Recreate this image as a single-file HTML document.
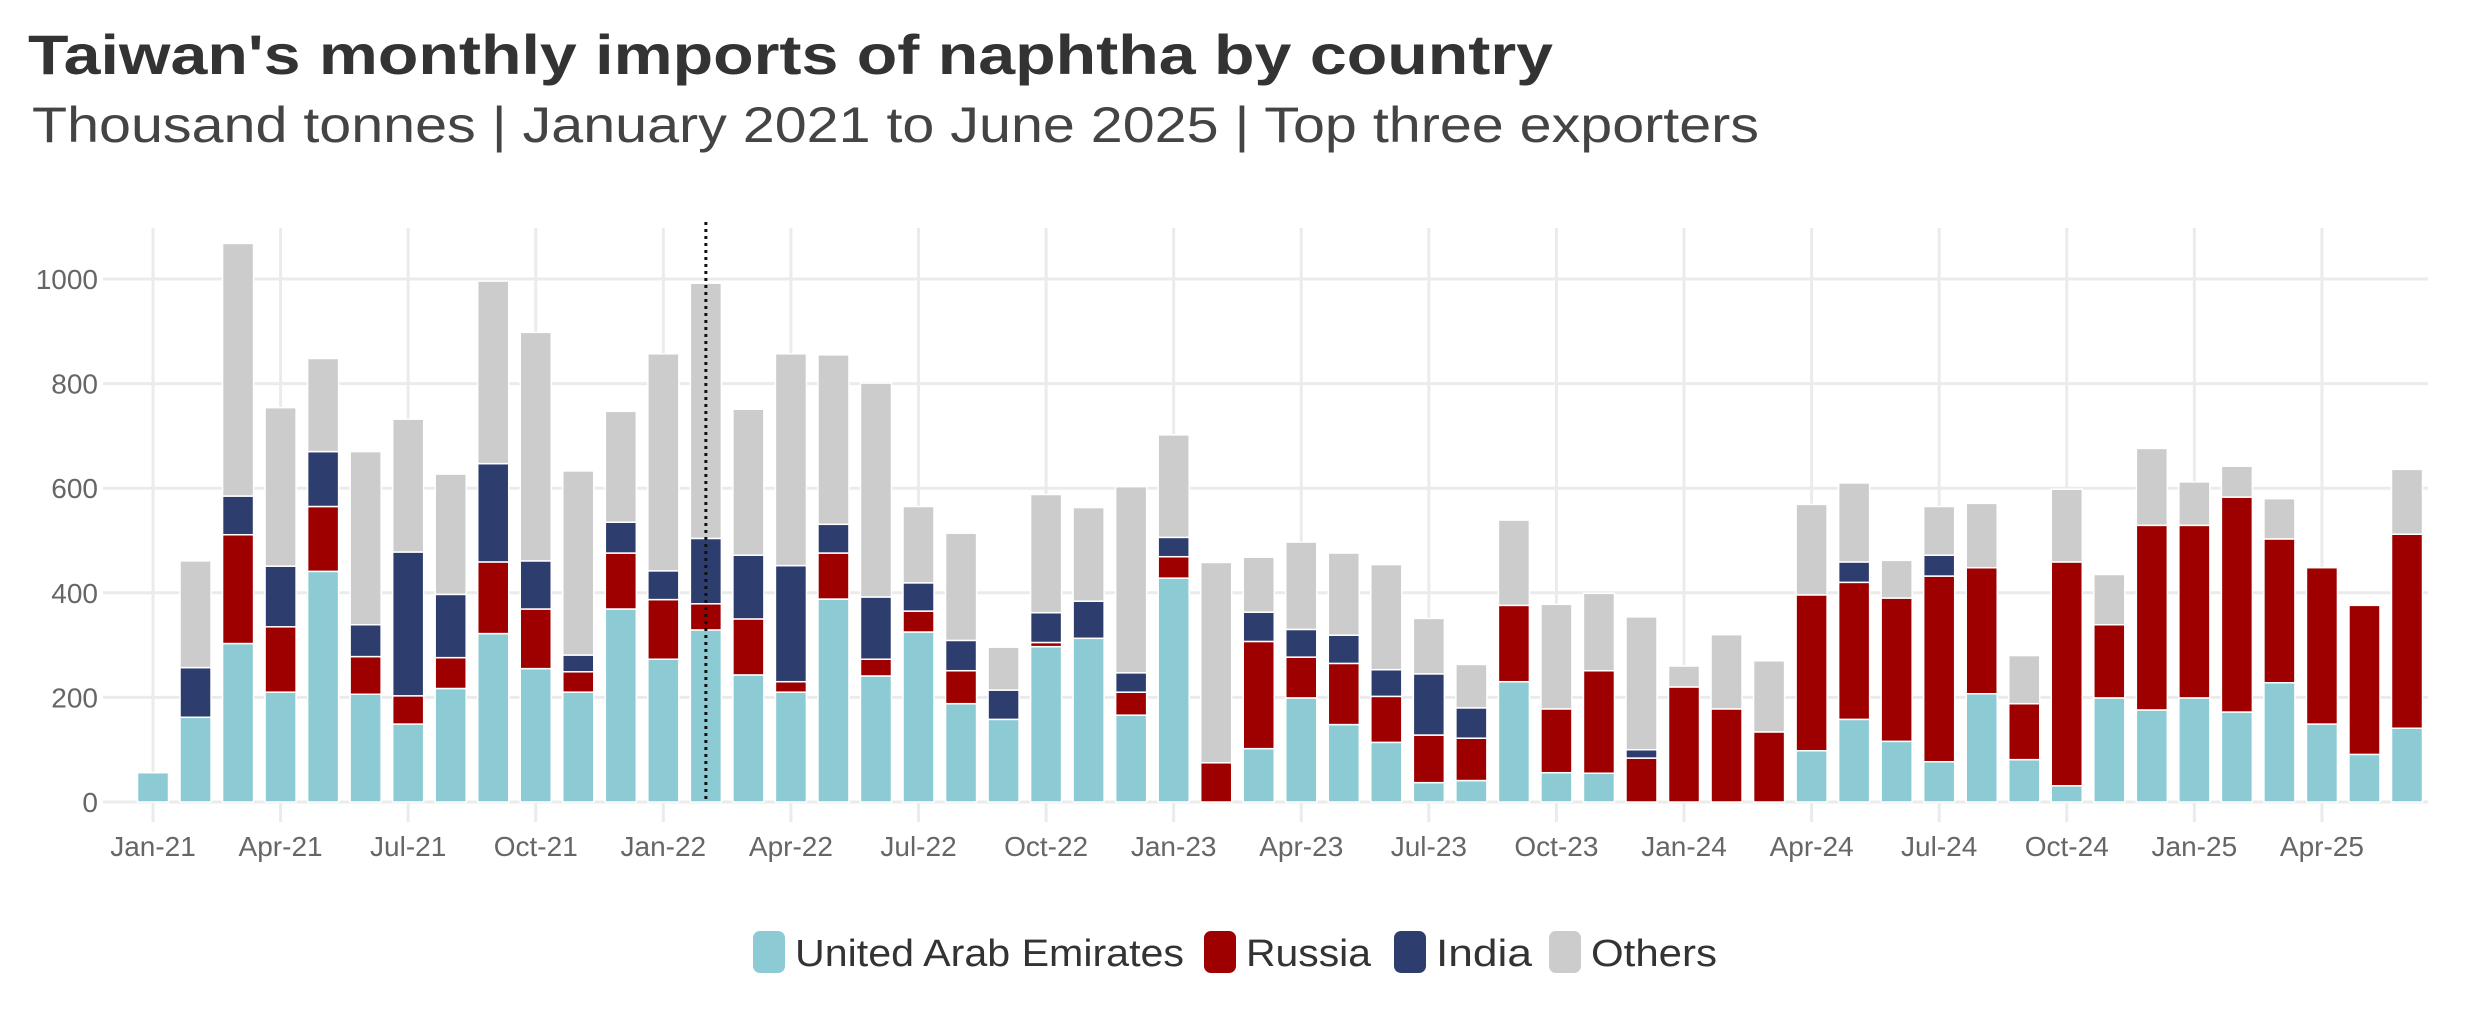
<!DOCTYPE html>
<html><head><meta charset="utf-8">
<style>
html,body{margin:0;padding:0;background:#fff;}
svg{display:block;font-family:"Liberation Sans",sans-serif;}
</style></head>
<body>
<svg id="chart" width="2478" height="1010" viewBox="0 0 2478 1010">
<text x="28" y="74" font-size="56" font-weight="bold" fill="#333" textLength="1525" lengthAdjust="spacingAndGlyphs">Taiwan's monthly imports of naphtha by country</text>
<text x="32" y="142" font-size="50" fill="#444" textLength="1727" lengthAdjust="spacingAndGlyphs">Thousand tonnes | January 2021 to June 2025 | Top three exporters</text>
<g id="grid"></g>
<g id="bars"></g>
<g id="axes"></g>
<g id="legend"></g>
</svg>
<script>
const months = ["Jan-21","Feb-21","Mar-21","Apr-21","May-21","Jun-21","Jul-21","Aug-21","Sep-21","Oct-21","Nov-21","Dec-21",
"Jan-22","Feb-22","Mar-22","Apr-22","May-22","Jun-22","Jul-22","Aug-22","Sep-22","Oct-22","Nov-22","Dec-22",
"Jan-23","Feb-23","Mar-23","Apr-23","May-23","Jun-23","Jul-23","Aug-23","Sep-23","Oct-23","Nov-23","Dec-23",
"Jan-24","Feb-24","Mar-24","Apr-24","May-24","Jun-24","Jul-24","Aug-24","Sep-24","Oct-24","Nov-24","Dec-24",
"Jan-25","Feb-25","Mar-25","Apr-25","May-25","Jun-25"];
const uae = [56,162,303,210,441,206,149,217,322,255,210,369,273,329,243,210,388,241,325,188,158,297,313,166,428,0,102,199,148,114,37,41,230,56,55,0,0,0,0,98,158,116,77,207,81,31,199,176,199,172,228,149,91,141];
const russia = [0,0,208,125,124,72,54,59,137,114,39,107,114,50,107,20,88,32,40,63,0,8,0,44,41,75,205,78,117,88,91,81,146,122,196,84,220,178,134,298,262,274,355,241,107,428,140,353,330,411,275,299,285,371];
const india = [0,95,74,116,105,61,275,121,188,92,32,59,55,125,122,222,55,119,54,58,56,57,71,37,37,0,56,53,54,51,117,58,0,0,0,16,0,0,0,0,39,0,40,0,0,0,0,0,0,0,0,0,0,0];
const others = [0,204,483,303,178,331,254,230,349,437,352,212,415,488,279,405,324,409,146,205,82,226,179,356,196,383,105,167,157,201,106,83,163,200,148,254,40,142,136,173,151,72,93,123,92,139,96,147,83,59,77,0,0,124];
const yTicks = [0,200,400,600,800,1000];
const xTickMonths = ["Jan-21","Apr-21","Jul-21","Oct-21","Jan-22","Apr-22","Jul-22","Oct-22","Jan-23","Apr-23","Jul-23","Oct-23","Jan-24","Apr-24","Jul-24","Oct-24","Jan-25","Apr-25"];
const markerMonth = "Feb-22";
const seriesNames = ["United Arab Emirates","Russia","India","Others"];
const seriesColors = ["#8ccbd3","#9e0000","#2d3e6e","#cccccc"];

const NS="http://www.w3.org/2000/svg";
const X0=153, STEP=(2407-153)/53, BW=31;
const Y0=802, PXU=(802-279)/1000;
const xs = i => X0 + i*STEP;
const ys = v => Y0 - v*PXU;
function mk(tag, attrs, parent){const e=document.createElementNS(NS,tag);for(const k in attrs)e.setAttribute(k,attrs[k]);parent.appendChild(e);return e;}
const grid=document.getElementById('grid'), bars=document.getElementById('bars'), axes=document.getElementById('axes'), legend=document.getElementById('legend');

yTicks.forEach(t=>{
  const l=mk('line',{x1:103,x2:2428,y1:ys(t),y2:ys(t),stroke:'#ebebeb','stroke-width':3},grid);
  
  
  const tx=mk('text',{x:98,y:ys(t)+10,'text-anchor':'end','font-size':28,fill:'#666'},axes);
  tx.textContent=t;
  
  
});
xTickMonths.forEach(m=>{
  const i=months.indexOf(m);
  const l=mk('line',{x1:xs(i),x2:xs(i),y1:228,y2:822,stroke:'#ebebeb','stroke-width':3},grid);
  
  
  const tx=mk('text',{x:xs(i),y:856,'text-anchor':'middle','font-size':28,fill:'#666'},axes);
  tx.textContent=m;
  
  
});

const series=[uae,russia,india,others];
months.forEach((m,i)=>{
  let base=0;
  series.forEach((s,k)=>{
    const v=s[i]; if(!v) return;
    const r=mk('rect',{x:xs(i)-BW/2,y:ys(base+v),width:BW,height:v*PXU,fill:seriesColors[k],stroke:'#fff','stroke-width':1.5},bars);
    
    
    base+=v;
  });
});
const mi=months.indexOf(markerMonth);
const dl=mk('line',{x1:xs(mi),x2:xs(mi),y1:222,y2:802,stroke:'#111','stroke-width':3,'stroke-dasharray':'3,4'},axes);



const legX=[753,1204,1394,1549], legW=[389,125,96,126];
seriesNames.forEach((n,k)=>{
  const r=mk('rect',{x:legX[k],y:931,width:32,height:42,rx:7,fill:seriesColors[k]},legend);
  
  
  const t=mk('text',{x:legX[k]+42,y:966,'font-size':38,fill:'#333',textLength:legW[k],lengthAdjust:'spacingAndGlyphs'},legend);
  t.textContent=n;
  
  
});
</script>
</body></html>
